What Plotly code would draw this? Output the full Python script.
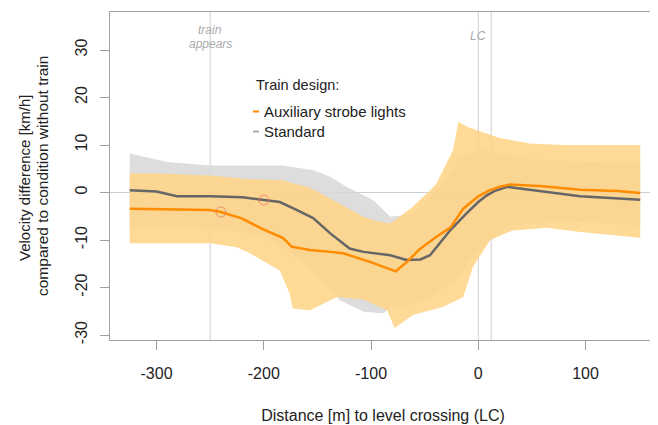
import plotly.graph_objects as go

# ---- data ----
aux_x = [-325, -280, -250, -240, -220, -203, -182, -174, -157, -138, -126, -101,
         -77, -65, -55, -39, -26, -14, 0, 10, 20, 30, 60, 95, 130, 151]
aux_y = [-3.4, -3.5, -3.7, -4.1, -5.5, -7.5, -9.6, -11.4, -12.1, -12.5, -12.8, -14.6,
         -16.6, -14.3, -12.0, -9.3, -7.4, -3.4, -0.8, 0.4, 1.2, 1.7, 1.3, 0.6, 0.3, -0.1]

std_x = [-325, -300, -281, -250, -220, -200, -185, -169, -154, -138, -120, -107,
         -95, -82, -67, -54, -45, -39, -26, -11, 0, 8, 15, 27, 50, 95, 151]
std_y = [0.5, 0.2, -0.8, -0.8, -1.0, -1.6, -2.0, -3.7, -5.4, -8.6, -11.8, -12.5,
         -12.8, -13.2, -14.2, -14.1, -13.2, -11.5, -7.9, -4.4, -2.0, -0.6, 0.3, 1.2, 0.5, -0.8, -1.5]

aux_up_x = [-325, -300, -250, -225, -213, -182, -174, -157, -138, -132, -120, -107,
            -95, -82, -76, -61, -45, -39, -23.5, -18.6, -10, 0, 8, 20, 48, 79, 100, 151]
aux_up = [4.0, 4.0, 3.6, 3.0, 2.8, 2.6, 2.0, 1.0, -1.2, -2.0, -3.5, -5.1,
          -6.0, -6.5, -5.5, -3.0, 0.5, 1.9, 8.9, 14.9, 13.8, 13.0, 12.5, 11.5, 10.3, 10.0, 10.0, 10.0]
aux_lo_x = [-325, -250, -225, -213, -185, -176, -173, -157, -132, -107, -85, -78,
            -61, -45, -33, -14, -5, 11, 32, 64, 95, 151]
aux_lo = [-10.7, -10.7, -11.5, -12.8, -16.4, -21.2, -24.4, -24.8, -22.0, -22.5, -24.8, -28.5,
          -25.8, -24.8, -24.1, -22.0, -15.7, -10.0, -8.0, -7.4, -8.3, -9.5]

std_up_x = [-325, -290, -250, -182, -154, -138, -123, -98, -82, -61, -45, -30, -18, 0, 50, 151]
std_up = [8.2, 6.4, 5.7, 5.7, 4.7, 3.3, 1.2, -1.6, -5.1, -4.5, -1.0, 3.0, 7.0, 9.0, 7.0, 6.0]
std_lo_x = [-325, -250, -200, -160, -129, -107, -89, -80, -70, -45, -20, 0, 30, 80, 151]
std_lo = [-7.3, -7.5, -9.0, -15.0, -22.7, -25.1, -25.4, -24.0, -24.0, -22.0, -18.0, -12.0, -7.0, -6.0, -7.0]

marker_x = [-240, -200]
marker_y = [-4.1, -1.6]

event_x = [-250, 0, 12]

x_ticks = [-300, -200, -100, 0, 100]
y_ticks = [-30, -20, -10, 0, 10, 20, 30]

legend_title = "Train design:"
legend_names = ["Auxiliary strobe lights", "Standard"]
y_title_lines = ["Velocity difference [km/h]", "compared to condition without train"]
x_title = "Distance [m] to level crossing (LC)"

ORANGE = "#FF8C00"
GREY = "#666666"
FONT = "Liberation Sans, Arial, sans-serif"
TXT = "#222222"

# the page body has an 8px margin: size the figure so the plot area lands where
# the reference has it (plot box x 110..656, y 12..340 in page pixels)
OFF = 8
W, H = 658 - OFF, 425 - OFF

fig = go.Figure()

# Standard CI band
fig.add_trace(go.Scatter(
    x=std_up_x + std_lo_x[::-1], y=std_up + std_lo[::-1],
    fill="toself", fillcolor="rgba(215,215,215,0.85)", mode="lines",
    line=dict(width=0), hoverinfo="skip", showlegend=False))
# Auxiliary CI band
fig.add_trace(go.Scatter(
    x=aux_up_x + aux_lo_x[::-1], y=aux_up + aux_lo[::-1],
    fill="toself", fillcolor="rgba(255,212,135,0.88)", mode="lines",
    line=dict(width=0), hoverinfo="skip", showlegend=False))

fig.add_trace(go.Scatter(x=std_x, y=std_y, mode="lines", name=legend_names[1],
                         line=dict(color=GREY, width=2.5), showlegend=False))
fig.add_trace(go.Scatter(x=aux_x, y=aux_y, mode="lines", name=legend_names[0],
                         line=dict(color=ORANGE, width=2.5), showlegend=False))
fig.add_trace(go.Scatter(x=marker_x, y=marker_y, mode="markers",
                         marker=dict(symbol="circle-open", size=10,
                                     color="rgba(235,120,100,0.8)", line=dict(width=1)),
                         hoverinfo="skip", showlegend=False))

# reference lines
for ex in event_x:
    fig.add_shape(type="line", x0=ex, x1=ex, y0=0, y1=1, xref="x", yref="paper",
                  line=dict(color="#CFCFCF", width=1), layer="below")
fig.add_shape(type="line", x0=0, x1=1, y0=0, y1=0, xref="paper", yref="y",
              line=dict(color="#CFCFCF", width=1), layer="below")


def ppx(px):
    return (px - 110) / 546.0


def ppy(py):
    return (340 - py) / 328.0


def label(px, py, text, size, color, anchor="center", angle=0):
    fig.add_annotation(x=ppx(px), y=ppy(py), xref="paper", yref="paper",
                       xanchor=anchor, yanchor="middle", text=text, showarrow=False,
                       textangle=angle, font=dict(family=FONT, size=size, color=color))


# event labels
label(210, 30, "<i>train</i>", 12, "#AAAAAA")
label(210, 44, "<i>appears</i>", 12, "#AAAAAA")
label(478, 36, "<i>LC</i>", 12, "#AAAAAA")

# legend drawn as text
label(254, 85, legend_title, 14.5, TXT, "left")
label(262, 111.5, legend_names[0], 15, TXT, "left")
label(262, 131.5, legend_names[1], 15, TXT, "left")
fig.add_shape(type="line", xref="paper", yref="paper", x0=ppx(253), x1=ppx(259),
              y0=ppy(111.5), y1=ppy(111.5), line=dict(color=ORANGE, width=2))
fig.add_shape(type="line", xref="paper", yref="paper", x0=ppx(253), x1=ppx(259),
              y0=ppy(131.5), y1=ppy(131.5), line=dict(color="#AAAAAA", width=2))

# y axis title (two rotated lines)
label(24, 178, y_title_lines[0], 15, TXT, "center", -90)
label(42, 176, y_title_lines[1], 15.5, TXT, "center", -90)

fig.update_layout(
    width=W, height=H,
    margin=dict(l=110 - OFF, r=2, t=12 - OFF, b=85, autoexpand=False),
    paper_bgcolor="white", plot_bgcolor="white",
    font=dict(family=FONT, color=TXT),
    showlegend=False,
)
fig.update_xaxes(
    range=[-343.4, 165.7], tickvals=x_ticks, ticktext=[str(v) for v in x_ticks],
    showgrid=False, zeroline=False, showline=True, mirror=True, automargin=False,
    linecolor="#A0A0A0", linewidth=1, ticks="outside", ticklen=9, tickcolor="#A0A0A0",
    tickfont=dict(family=FONT, size=16, color=TXT), ticklabelstandoff=10,
    title=dict(text=x_title, font=dict(family=FONT, size=16, color=TXT), standoff=28),
)
fig.update_yaxes(
    range=[-31.05, 38.0], tickvals=y_ticks, ticktext=[str(v) for v in y_ticks],
    showgrid=False, zeroline=False, showline=True, mirror=True, automargin=False,
    linecolor="#A0A0A0", linewidth=1, ticks="outside", ticklen=9, tickcolor="#A0A0A0",
    tickangle=-90, tickfont=dict(family=FONT, size=16, color=TXT), ticklabelstandoff=7,
)

fig.write_html("out.html")
